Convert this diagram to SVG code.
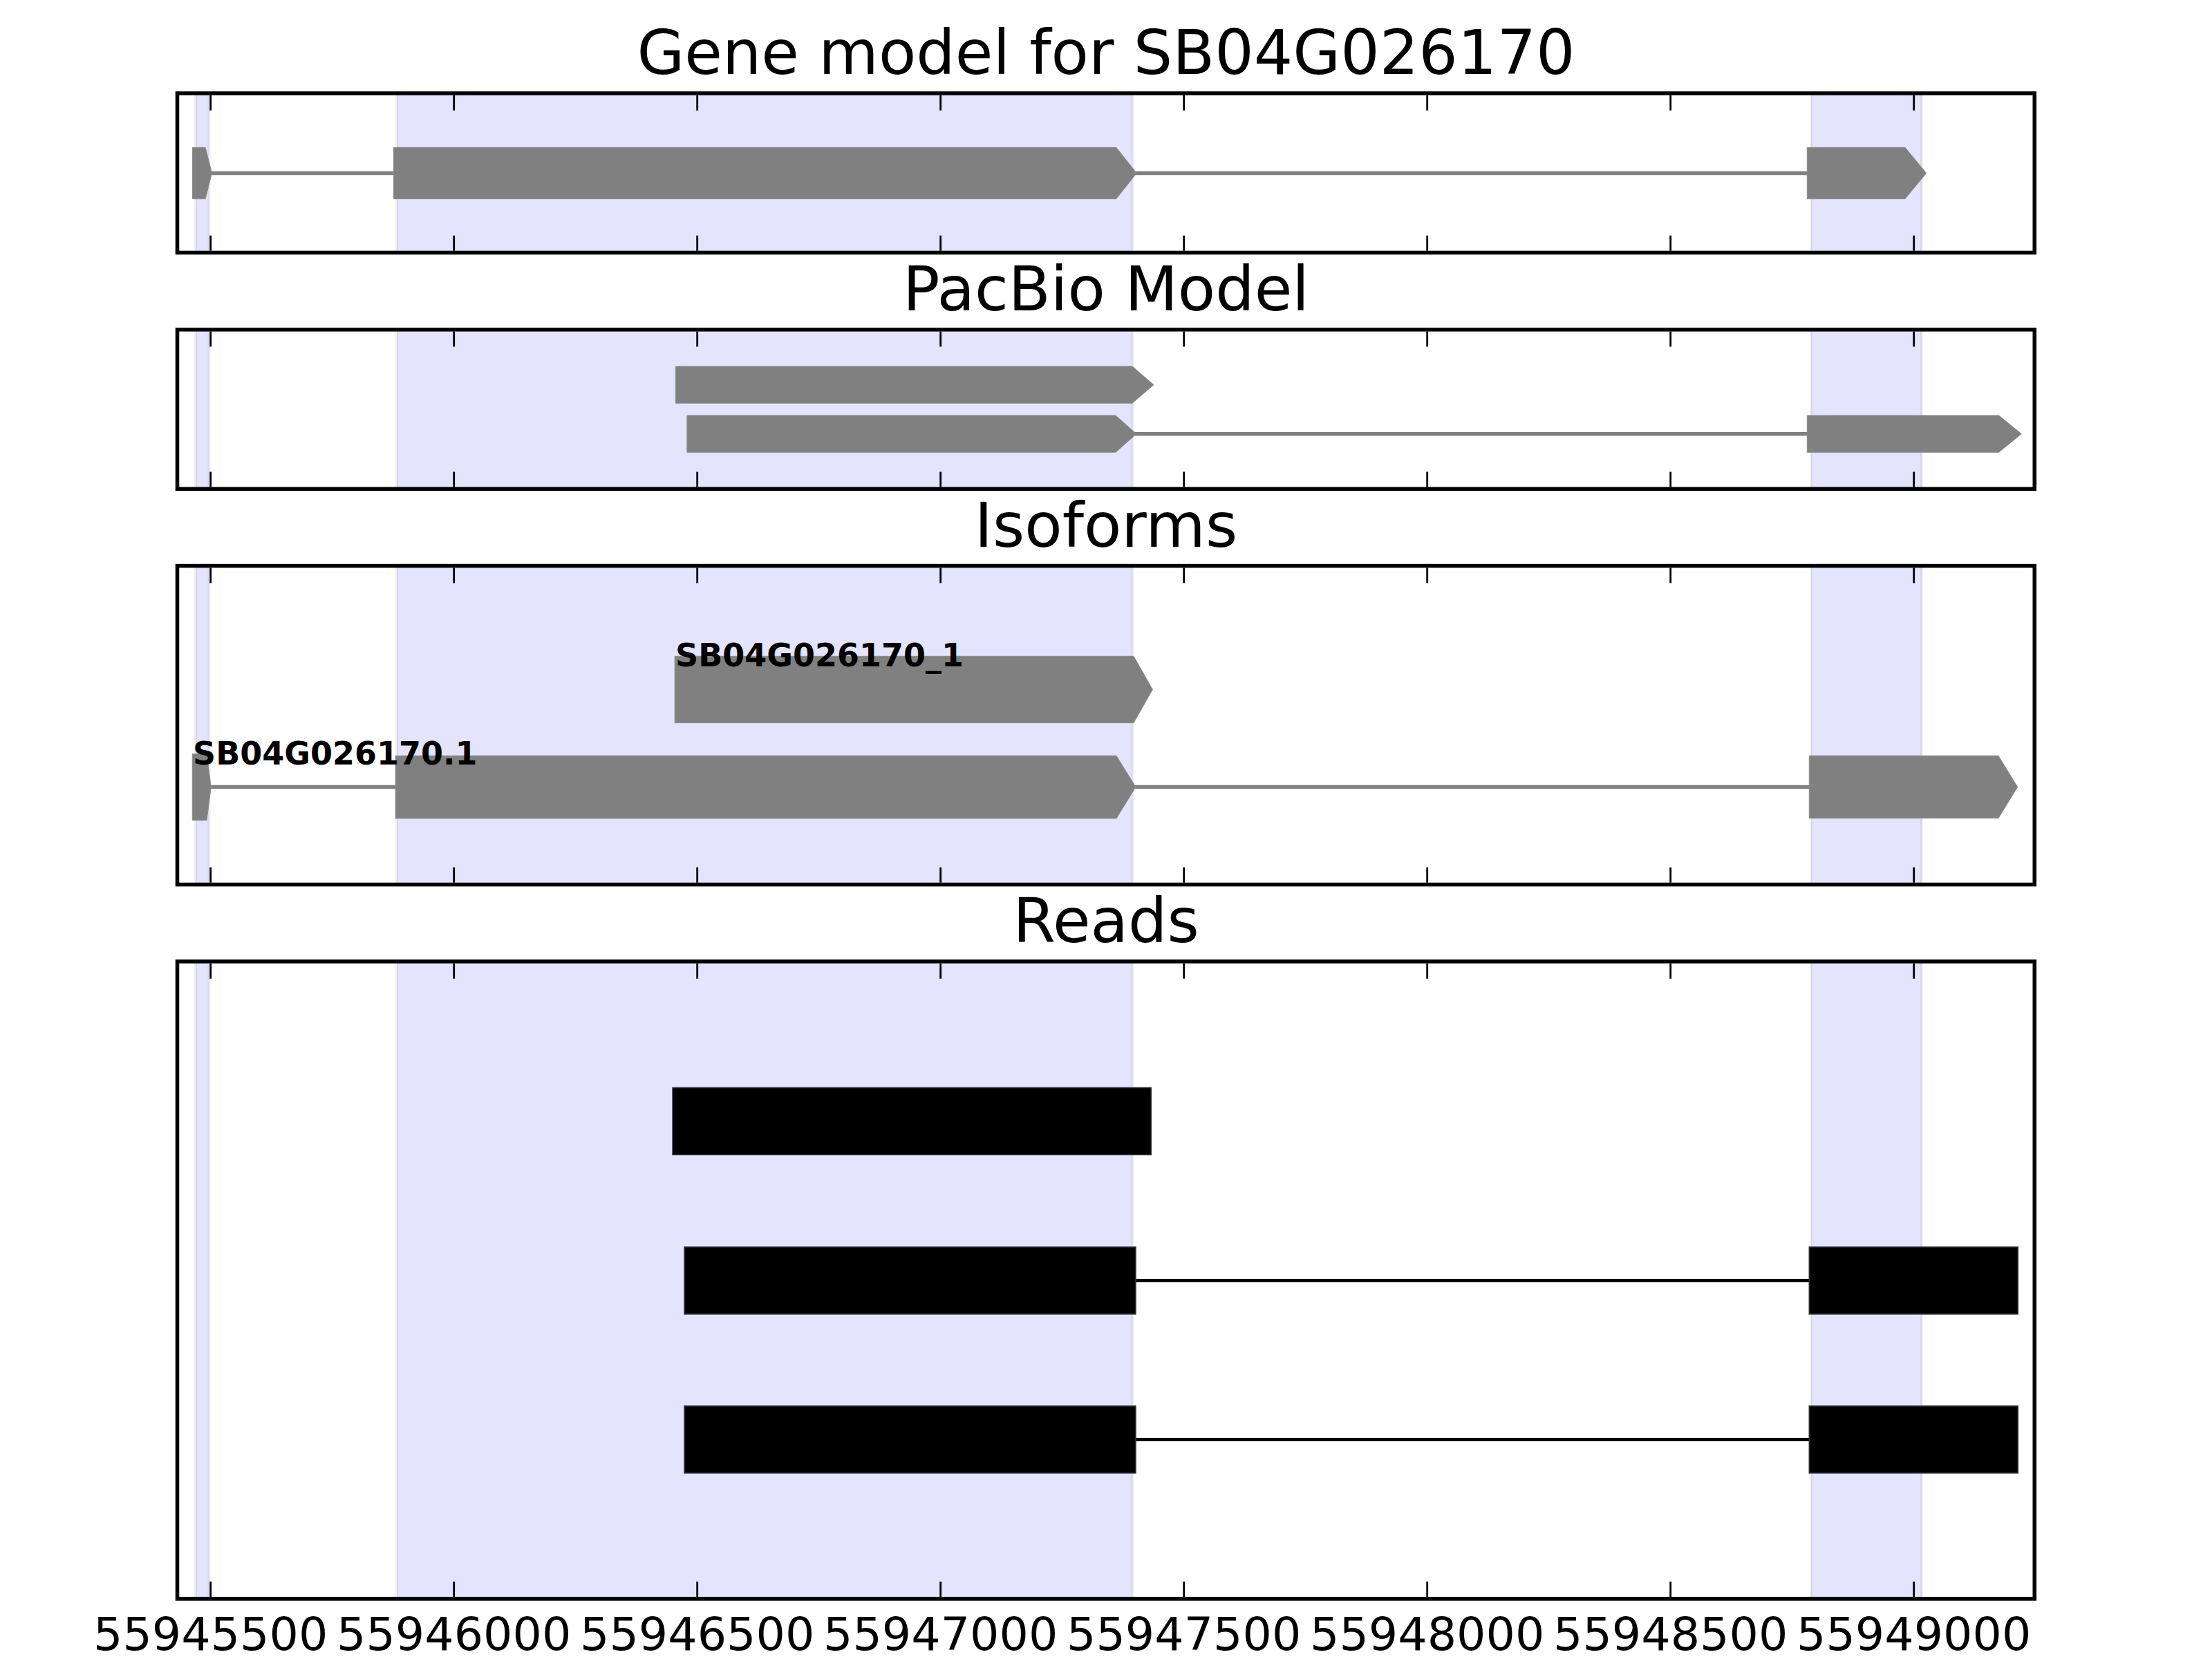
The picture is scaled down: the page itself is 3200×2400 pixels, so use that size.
<svg xmlns="http://www.w3.org/2000/svg" width="3200" height="2400" viewBox="0 0 3200 2400">
<style>
.title{font-family:"DejaVu Sans",sans-serif;font-size:88.9px;fill:#000;text-anchor:middle}
.tick{font-family:"DejaVu Sans",sans-serif;font-size:66.7px;fill:#000;text-anchor:middle}
.lbl{font-family:"DejaVu Sans",sans-serif;font-size:46px;font-weight:bold;fill:#000}
.span{fill:#E4E4FE;stroke:#000;stroke-opacity:0.06;stroke-width:4}
.exon{fill:#808080;stroke:#8c8c8c;stroke-width:1}
.read{fill:#000;stroke:#333340;stroke-width:1.5}
.intron{stroke:#808080;stroke-width:5.56;fill:none}
.rintron{stroke:#000;stroke-width:5;fill:none}
.frame{fill:none;stroke:#000;stroke-width:5.56}
.tk{stroke:#000;stroke-width:2.8}
</style>
<rect width="3200" height="2400" fill="#fff"/>

<!-- shaded exon regions -->
<g id="spans">
<rect class="span" x="283" y="135" width="19.5" height="230.5"/>
<rect class="span" x="574" y="135" width="1064.5" height="230.5"/>
<rect class="span" x="2620" y="135" width="160" height="230.5"/>
<rect class="span" x="283" y="476.8" width="19.5" height="230.5"/>
<rect class="span" x="574" y="476.8" width="1064.5" height="230.5"/>
<rect class="span" x="2620" y="476.8" width="160" height="230.5"/>
<rect class="span" x="283" y="818.6" width="19.5" height="461"/>
<rect class="span" x="574" y="818.6" width="1064.5" height="461"/>
<rect class="span" x="2620" y="818.6" width="160" height="461"/>
<rect class="span" x="283" y="1390.9" width="19.5" height="922"/>
<rect class="span" x="574" y="1390.9" width="1064.5" height="922"/>
<rect class="span" x="2620" y="1390.9" width="160" height="922"/>
</g>

<!-- connectors (introns) -->
<g id="connectors">
<line class="intron" x1="304" y1="250.5" x2="570" y2="250.5"/>
<line class="intron" x1="1642" y1="250.5" x2="2615" y2="250.5"/>
<line class="intron" x1="1642" y1="627.7" x2="2615" y2="627.7"/>
<line class="intron" x1="303" y1="1138.5" x2="573" y2="1138.5"/>
<line class="intron" x1="1641" y1="1138.5" x2="2618" y2="1138.5"/>
<line class="rintron" x1="1643" y1="1852.5" x2="2617.3" y2="1852.5"/>
<line class="rintron" x1="1643" y1="2082.5" x2="2617.3" y2="2082.5"/>
</g>

<!-- Panel 1: gene model -->
<g id="gene-model">
<polygon class="exon" points="278.4,213.3 297.1,213.3 306.5,250.5 297.1,287.7 278.4,287.7"/>
<polygon class="exon" points="569.5,213.3 1614.8,213.3 1644.3,250.5 1614.8,287.7 569.5,287.7"/>
<polygon class="exon" points="2614.3,213.3 2756,213.3 2786.7,250.5 2756,287.7 2614.3,287.7"/>
</g>

<!-- Panel 2: PacBio model -->
<g id="pacbio-1">
<polygon class="exon" points="977.5,530 1638,530 1669,556.7 1638,583.3 977.5,583.3"/>
</g>
<g id="pacbio-2">
<polygon class="exon" points="993.9,601 1614,601 1644,627.7 1614,654.3 993.9,654.3"/>
<polygon class="exon" points="2614.3,601 2891.7,601 2924.3,627.7 2891.7,654.3 2614.3,654.3"/>
</g>

<!-- Panel 3: isoforms -->
<g id="isoform-SB04G026170_1">
<polygon class="exon" points="976.2,949.3 1640,949.3 1667.4,997.5 1640,1045.7 976.2,1045.7"/>
<text class="lbl" x="977" y="964">SB04G026170_1</text>
</g>
<g id="isoform-SB04G026170.1">
<polygon class="exon" points="278.3,1090.7 299,1090.7 305.3,1138.5 299,1186.7 278.3,1186.7"/>
<polygon class="exon" points="572.1,1093.3 1615,1093.3 1643,1138.5 1615,1184 572.1,1184"/>
<polygon class="exon" points="2617.3,1093.3 2891,1093.3 2918.7,1138.5 2891,1183.7 2617.3,1183.7"/>
<text class="lbl" x="279" y="1106">SB04G026170.1</text>
</g>

<!-- Panel 4: reads -->
<g id="read-1">
<rect class="read" x="973" y="1573.5" width="692.3" height="97"/>
</g>
<g id="read-2">
<rect class="read" x="990" y="1804" width="653" height="97"/>
<rect class="read" x="2617.3" y="1804" width="302" height="97"/>
</g>
<g id="read-3">
<rect class="read" x="990" y="2034" width="653" height="97"/>
<rect class="read" x="2617.3" y="2034" width="302" height="97"/>
</g>

<!-- ticks -->
<g id="ticks">
<path class="tk" d="M304.7,137.8v22M656.7,137.8v22M1008.7,137.8v22M1360.7,137.8v22M1712.7,137.8v22M2064.7,137.8v22M2416.7,137.8v22M2768.7,137.8v22
M304.7,362.7v-22M656.7,362.7v-22M1008.7,362.7v-22M1360.7,362.7v-22M1712.7,362.7v-22M2064.7,362.7v-22M2416.7,362.7v-22M2768.7,362.7v-22
M304.7,479.6v22M656.7,479.6v22M1008.7,479.6v22M1360.7,479.6v22M1712.7,479.6v22M2064.7,479.6v22M2416.7,479.6v22M2768.7,479.6v22
M304.7,704.5v-22M656.7,704.5v-22M1008.7,704.5v-22M1360.7,704.5v-22M1712.7,704.5v-22M2064.7,704.5v-22M2416.7,704.5v-22M2768.7,704.5v-22
M304.7,821.4v22M656.7,821.4v22M1008.7,821.4v22M1360.7,821.4v22M1712.7,821.4v22M2064.7,821.4v22M2416.7,821.4v22M2768.7,821.4v22
M304.7,1276.8v-22M656.7,1276.8v-22M1008.7,1276.8v-22M1360.7,1276.8v-22M1712.7,1276.8v-22M2064.7,1276.8v-22M2416.7,1276.8v-22M2768.7,1276.8v-22
M304.7,1393.7v22M656.7,1393.7v22M1008.7,1393.7v22M1360.7,1393.7v22M1712.7,1393.7v22M2064.7,1393.7v22M2416.7,1393.7v22M2768.7,1393.7v22
M304.7,2310.1v-22M656.7,2310.1v-22M1008.7,2310.1v-22M1360.7,2310.1v-22M1712.7,2310.1v-22M2064.7,2310.1v-22M2416.7,2310.1v-22M2768.7,2310.1v-22"/>
</g>

<!-- frames -->
<g id="frames">
<rect class="frame" x="256.5" y="135" width="2686.8" height="230.5"/>
<rect class="frame" x="256.5" y="476.8" width="2686.8" height="230.5"/>
<rect class="frame" x="256.5" y="818.6" width="2686.8" height="461"/>
<rect class="frame" x="256.5" y="1390.9" width="2686.8" height="922"/>
</g>

<!-- titles -->
<g id="titles">
<text class="title" x="1600" y="107">Gene model for SB04G026170</text>
<text class="title" x="1600" y="449">PacBio Model</text>
<text class="title" x="1600" y="790.6">Isoforms</text>
<text class="title" x="1600" y="1363">Reads</text>
</g>

<!-- tick labels -->
<g id="tick-labels">
<text class="tick" x="304.7" y="2386.7">55945500</text>
<text class="tick" x="656.7" y="2386.7">55946000</text>
<text class="tick" x="1008.7" y="2386.7">55946500</text>
<text class="tick" x="1360.7" y="2386.7">55947000</text>
<text class="tick" x="1712.7" y="2386.7">55947500</text>
<text class="tick" x="2064.7" y="2386.7">55948000</text>
<text class="tick" x="2416.7" y="2386.7">55948500</text>
<text class="tick" x="2768.7" y="2386.7">55949000</text>
</g>
</svg>
